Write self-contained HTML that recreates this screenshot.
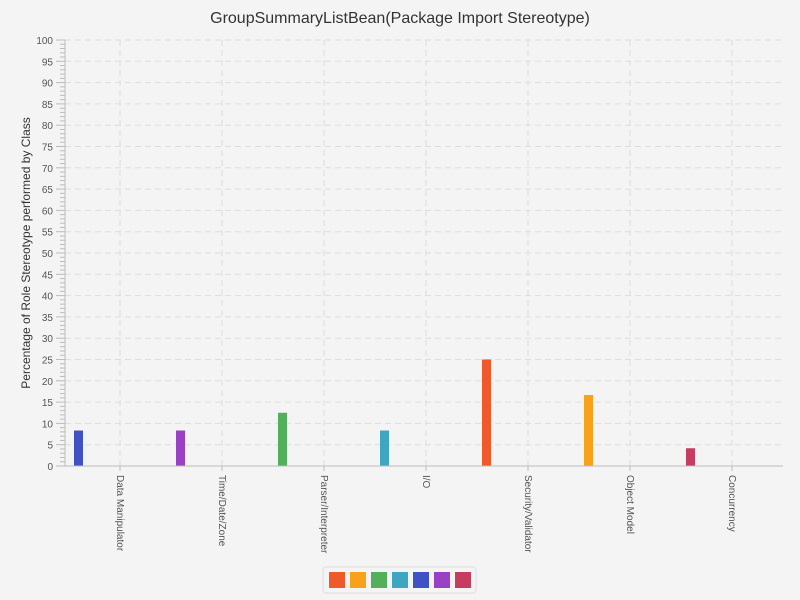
<!DOCTYPE html>
<html><head><meta charset="utf-8"><style>
html,body{margin:0;background:#f4f4f4;font-family:"Liberation Sans",sans-serif;overflow:hidden;width:800px;height:600px;}
svg{display:block;}
svg text{font-family:"Liberation Sans",sans-serif;}
</style></head><body>
<svg id="c" width="800" height="600"></svg>
<script>
const categories=["Data Manipulator","Time/Date/Zone","Parser/Interpreter","I/O","Security/Validator","Object Model","Concurrency"];
const values=[8.33,8.33,12.5,8.33,25,16.67,4.17];
const barColors=["#3f51c5","#9a40c4","#52b05a","#3ea6c2","#f05a2a","#f7a21b","#c63d5f"];
const legendColors=["#f05a2a","#f7a21b","#52b05a","#3ea6c2","#3f51c5","#9a40c4","#c63d5f"];
const yTicks=[0,5,10,15,20,25,30,35,40,45,50,55,60,65,70,75,80,85,90,95,100];
const NS="http://www.w3.org/2000/svg";
const svg=document.getElementById('c');
const AX=65,C0=69,X1=783,Y0=466,Y1=40;
const y=v=>Y0-(v/100)*(Y0-Y1);
const cw=(X1-C0)/categories.length;
const x=i=>C0+i*cw;
function mk(t,a,p){const e=document.createElementNS(NS,t);for(const k in a)e.setAttribute(k,a[k]);(p||svg).appendChild(e);return e;}
let t=mk('text',{x:400,y:23,'text-anchor':'middle','font-size':16,fill:'#333'});t.textContent="GroupSummaryListBean(Package Import Stereotype)";


for(let v=0;v<=100;v++){const yy=y(v);mk('line',{x1:v%5?60:56,x2:AX,y1:yy,y2:yy,stroke:'#bbb'});}
yTicks.forEach(v=>{
 if(v>0){const g=mk('line',{x1:AX,x2:X1,y1:y(v),y2:y(v),stroke:'#ddd','stroke-dasharray':'6,4'});
 
 }
 const l=mk('text',{x:53,y:y(v)+4,'text-anchor':'end','font-size':10,fill:'#555'});l.textContent=v;
 
 
});
categories.forEach((c,i)=>{
 const cx=x(i)+cw/2;
 mk('line',{x1:cx,x2:cx,y1:Y1,y2:Y0,stroke:'#ddd','stroke-dasharray':'6,4'});
 mk('line',{x1:cx,x2:cx,y1:Y0,y2:Y0+5,stroke:'#bbb'});
 const l=mk('text',{x:0,y:0,'font-size':10,fill:'#555',transform:`translate(${cx-3},${Y0+9}) rotate(90)`});l.textContent=c;
 
 
 const b=mk('rect',{x:x(i)+5,y:y(values[i]),width:9,height:Y0-y(values[i]),fill:barColors[i]});
 
 
});
mk('line',{x1:AX,x2:AX,y1:Y1,y2:Y0,stroke:'#bbb'});
mk('line',{x1:AX,x2:X1,y1:Y0,y2:Y0,stroke:'#bbb'});
t=mk('text',{x:0,y:0,'text-anchor':'middle','font-size':12,fill:'#333',transform:'translate(30,253) rotate(-90)'});t.textContent="Percentage of Role Stereotype performed by Class";


const lg=mk('rect',{x:323,y:567,width:153,height:26,rx:3,fill:'#f4f4f4',stroke:'#ddd'});


legendColors.forEach((c,i)=>{
 const s=mk('rect',{x:329+i*21,y:572,width:16,height:16,fill:c});
 
 
});
</script>
</body></html>
